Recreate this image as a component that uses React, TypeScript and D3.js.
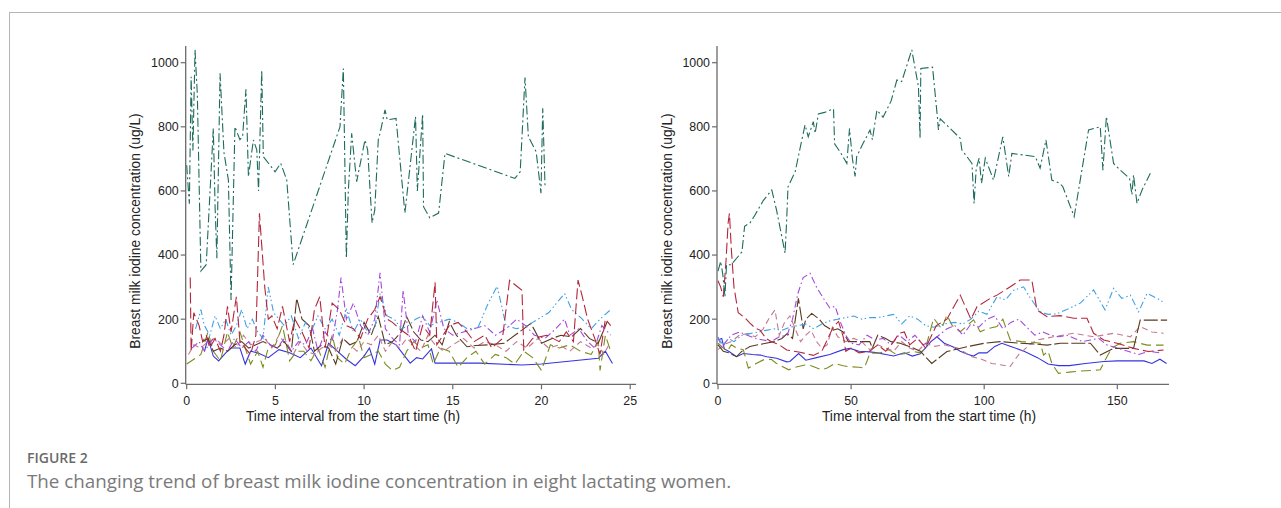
import React from 'react';
import * as d3 from 'd3';

// [hours, ug/L] per woman, left panel = first 24 h, right panel = whole week
const leftTeal = [[0,680],[0.15,560],[0.25,956],[0.35,726],[0.47,1040],[0.6,900],[0.8,350],[1.1,370],[1.5,795],[1.6,551],[1.7,390],[1.88,967],[2.1,720],[2.35,634],[2.5,260],[2.72,800],[3.0,760],[3.15,769],[3.34,917],[3.48,645],[3.76,759],[3.95,728],[4.05,600],[4.23,977],[4.32,707],[4.98,660],[5.3,686],[5.64,634],[6.0,370],[8.64,800],[8.83,982],[9.0,390],[9.11,600],[9.3,780],[9.58,629],[10.05,759],[10.2,728],[10.45,500],[10.6,540],[10.8,760],[10.9,780],[11.18,853],[11.3,822],[11.8,826],[12.3,531],[12.9,832],[13.0,600],[13.3,840],[13.35,551],[13.7,516],[14.2,531],[14.56,717],[18.5,639],[18.8,660],[19.07,954],[19.26,769],[19.7,722],[19.97,593],[20.07,858],[20.2,613]];
const leftRed = [[0.2,330],[0.25,100],[0.4,220],[0.7,180],[0.9,130],[1.1,150],[1.3,110],[1.6,140],[1.9,100],[2.1,150],[2.3,240],[2.5,160],[2.8,270],[3.0,130],[3.3,110],[3.6,90],[3.9,150],[4.1,530],[4.4,300],[4.6,200],[4.8,210],[5.1,170],[5.4,240],[5.8,130],[6.1,200],[6.5,160],[6.9,110],[7.2,230],[7.5,270],[7.8,110],[8.2,250],[8.6,230],[9.0,180],[9.4,170],[9.8,140],[10.2,200],[10.6,230],[10.9,270],[11.3,200],[11.6,190],[12.0,170],[12.5,150],[12.9,100],[13.3,180],[13.7,150],[14.0,315],[14.1,120],[14.8,180],[15.3,190],[15.8,160],[16.2,130],[16.8,150],[17.2,110],[17.8,140],[18.2,321],[18.9,290],[19.0,104],[19.5,140],[20.3,150],[21.0,130],[21.4,160],[21.8,130],[22.06,322],[22.3,270],[22.6,200],[23.0,140],[23.3,90],[23.6,200],[23.9,180]];
const leftSky = [[0.5,170],[0.8,230],[1.0,180],[1.3,150],[1.6,210],[1.9,170],[2.2,200],[2.5,150],[2.8,180],[3.1,230],[3.4,170],[3.7,200],[4.0,160],[4.3,140],[4.6,300],[4.9,220],[5.2,200],[5.5,180],[5.9,210],[6.3,140],[6.7,190],[7.0,160],[7.4,210],[7.8,170],[8.2,200],[8.6,150],[9.0,230],[9.4,160],[9.8,200],[10.2,160],[10.6,170],[10.9,280],[11.3,210],[11.7,200],[12.1,170],[12.5,180],[12.9,200],[13.3,210],[13.7,180],[14.2,190],[14.8,200],[15.3,190],[15.8,170],[16.4,172],[17.0,250],[17.5,303],[18.0,180],[18.6,170],[19.2,180],[19.8,200],[20.4,220],[21.0,260],[21.3,280],[21.7,230],[22.3,200],[22.8,170],[23.3,200],[23.9,230]];
const leftPurple = [[0.3,110],[0.7,130],[1.0,100],[1.5,140],[1.9,120],[2.3,100],[2.7,140],[3.1,110],[3.5,130],[3.9,100],[4.3,150],[4.7,120],[5.1,110],[5.5,140],[5.9,100],[6.3,130],[6.7,120],[7.1,170],[7.4,100],[7.8,160],[8.2,130],[8.5,230],[8.7,330],[9.0,200],[9.4,250],[9.8,180],[10.2,150],[10.6,200],[10.9,345],[11.2,170],[11.6,140],[12.0,120],[12.2,290],[12.5,150],[12.9,130],[13.3,210],[13.7,160],[14.1,260],[14.5,170],[15.0,150],[15.6,160],[16.2,170],[16.8,180],[17.4,150],[18.0,170],[18.6,200],[19.1,180],[19.6,150],[20.2,140],[20.8,170],[21.3,200],[21.6,150],[22.1,170],[22.6,130],[23.0,110],[23.4,180],[23.9,150]];
const leftBrown = [[0.9,130],[1.2,140],[1.5,100],[1.9,110],[2.3,100],[2.7,120],[3.1,130],[3.5,110],[3.9,120],[4.3,130],[4.7,120],[5.1,110],[5.5,130],[5.9,100],[6.2,265],[6.5,200],[6.9,180],[7.2,100],[7.6,120],[8.0,110],[8.4,60],[8.8,140],[9.2,120],[9.6,130],[10.0,190],[10.4,150],[10.8,208],[11.2,120],[11.6,130],[12.1,160],[12.4,208],[12.8,160],[13.2,135],[13.6,130],[14.0,150],[14.4,120],[14.8,192],[15.2,150],[15.8,114],[16.3,118],[17.0,120],[17.9,125],[18.5,150],[18.9,166],[19.4,187],[20.0,125],[20.6,140],[21.1,150],[21.7,145],[22.2,171],[22.7,140],[23.2,125],[23.7,192]];
const leftMauve = [[0.1,90],[0.4,120],[0.8,110],[1.2,130],[1.6,140],[2.0,120],[2.4,140],[2.8,110],[3.2,150],[3.6,120],[4.0,130],[4.4,140],[4.8,110],[5.2,150],[5.6,120],[6.0,90],[6.4,130],[6.8,100],[7.2,90],[7.6,110],[8.0,120],[8.4,100],[8.8,140],[9.2,120],[9.6,100],[10.0,130],[10.4,120],[10.8,150],[11.2,100],[11.6,130],[12.0,110],[12.4,140],[12.8,120],[13.2,100],[13.6,150],[14.0,120],[14.5,100],[15.0,120],[15.6,140],[16.2,110],[16.8,130],[17.4,120],[18.0,100],[18.6,130],[19.2,110],[19.8,140],[20.4,110],[21.0,120],[21.6,100],[22.2,130],[22.8,110],[23.2,120],[23.5,90],[23.9,130]];
const leftOlive = [[0,60],[0.8,90],[1.2,160],[1.5,100],[1.9,70],[2.3,160],[2.6,110],[3.0,160],[3.3,110],[3.6,60],[4.0,100],[4.3,50],[4.6,110],[5.0,120],[5.4,180],[5.8,70],[6.2,100],[6.6,100],[7.0,70],[7.4,110],[7.8,50],[8.2,150],[8.5,80],[8.9,60],[9.3,110],[9.7,140],[10.0,80],[10.4,90],[10.8,100],[11.2,60],[11.6,40],[12.0,50],[12.4,100],[12.8,130],[13.2,110],[13.6,120],[13.9,60],[14.3,110],[14.8,100],[15.3,50],[15.8,80],[16.3,100],[16.8,60],[17.4,90],[18.0,80],[18.5,60],[19.0,100],[19.5,80],[20.0,40],[20.5,120],[21.0,110],[21.6,120],[22.2,100],[22.8,90],[23.2,130],[23.3,40],[23.6,150],[23.9,100]];
const leftBlue = [[1.0,100],[1.2,140],[1.5,85],[1.8,70],[2.2,95],[2.5,110],[3.0,110],[3.3,60],[3.6,100],[4.0,95],[4.6,80],[5.2,105],[5.8,95],[6.4,80],[7.0,110],[7.6,55],[8.0,125],[8.6,95],[9.0,75],[9.5,55],[10.0,85],[10.3,110],[10.6,60],[10.9,135],[11.3,135],[11.8,120],[12.6,63],[12.96,80],[13.3,76],[13.8,107],[14.0,63],[16.5,63],[18.9,57],[20.0,60],[23.2,78],[23.6,100],[24.0,62]];

const rightTeal = [[0,350],[1,380],[1.8,340],[2.6,270],[3.2,370],[5,370],[7,390],[9,410],[10,490],[12,500],[13.9,525],[17,570],[20.2,603],[22,540],[25.2,406],[25.8,510],[26.3,613],[29,660],[31,740],[32.7,806],[33.9,769],[35.8,816],[36.5,780],[37.7,840],[40,845],[43.4,856],[43.8,747],[46,720],[48.4,686],[49.4,795],[50.5,700],[51.5,645],[52.1,707],[54,740],[57.1,790],[58,760],[59.7,852],[62,830],[65,880],[67.2,946],[69,941],[72.8,1040],[75.3,925],[75.9,764],[76.2,982],[80.6,986],[82.4,832],[82.8,790],[83.5,825],[91,764],[91.6,728],[95.4,686],[96.2,561],[97,670],[98.1,702],[99,624],[100.4,702],[103.5,634],[107,769],[109.2,645],[110.4,717],[119.2,707],[121,671],[123.2,759],[125.4,634],[128.3,624],[129.5,614],[133.8,520],[136.7,665],[139.2,790],[143.6,800],[144.6,665],[145.9,832],[148.6,686],[151.1,665],[154.6,639],[155.5,588],[156.1,650],[157.4,561],[159.3,603],[162.4,655]];
const rightRed = [[0,320],[1,300],[2,270],[3,380],[3.8,500],[4.3,530],[5,420],[6,300],[7.6,220],[10,205],[12,188],[14,172],[15.8,166],[18,140],[20,130],[23,120],[25.8,104],[30.8,97],[35.8,87],[39,100],[43.4,177],[45.3,193],[47.2,140],[48,100],[50,110],[53,95],[57,100],[60,120],[63,100],[66,130],[68,156],[70,160],[72,120],[75,140],[78,110],[82,180],[86,200],[91,275],[95,200],[97.3,239],[102.3,265],[104.8,275],[109.8,301],[113.5,322],[117.9,322],[119.8,229],[123.6,208],[128.6,211],[133.6,203],[138.6,203],[141.1,156],[144.9,135],[149.9,125],[156.1,109],[161.7,99],[167.4,104]];
const rightSky = [[0,140],[2,120],[4,140],[6,130],[9,150],[12,155],[15,160],[18,165],[21,170],[24,165],[27,175],[30,180],[33,185],[36,170],[39,185],[42,195],[45,200],[48,205],[51,210],[54,200],[57,205],[60,205],[63,210],[66,215],[69,185],[72,210],[75,200],[78,180],[81,175],[85,185],[89,190],[92,185],[95,200],[98,225],[101,215],[104.8,270],[108,260],[111,290],[114.8,301],[117,270],[121,223],[124,215],[127.3,217],[131,230],[136.1,250],[141.1,291],[145.4,229],[148.6,296],[151.7,265],[154.9,275],[158,223],[161.2,281],[164.9,265],[168,250]];
const rightPurple = [[0,145],[1.5,110],[3,130],[5,150],[8,160],[11,150],[14,140],[17,135],[20,130],[23,145],[26,150],[28,200],[30,280],[32,330],[34.6,343],[37,300],[40,260],[42,235],[44,240],[46,190],[48,150],[50,125],[53,120],[56,150],[59,135],[62,140],[65,120],[68,150],[71,130],[74,150],[77,120],[80,130],[83,150],[86,170],[89,180],[92,150],[95,185],[98,175],[101,200],[104,210],[107,170],[110,190],[113,200],[116,175],[119,150],[122,160],[125,150],[128,145],[131,150],[134,140],[137,130],[140,135],[143,140],[146,120],[150,110],[154,100],[158,90],[162,100],[166,95]];
const rightBrown = [[0,120],[2,100],[4,95],[7,83],[9,100],[12,115],[15,120],[18,125],[21,130],[24,140],[26,155],[28,140],[30.2,265],[32,170],[33,200],[35.2,218],[38,200],[40,180],[43,165],[45,170],[47,160],[49,130],[53,130],[57,130],[58,110],[60,150],[63,140],[65,130],[68.4,125],[72.2,114],[76,100],[80.3,62],[86,99],[93.5,114],[100,125],[106,130],[113.5,125],[118,123],[123.6,119],[128.6,125],[134,125],[139.9,125],[143.6,88],[148.6,109],[156.1,109],[158.6,197],[168.7,197]];
const rightMauve = [[0,105],[2,120],[5,130],[8,150],[11,155],[14,145],[17,170],[19,200],[21.4,229],[23,150],[25,190],[27,210],[29,170],[31,130],[33,150],[35,165],[37,130],[39,110],[41,120],[43,175],[45,145],[48,130],[51,140],[54,130],[57,105],[60,120],[63,110],[66,100],[69,130],[72,110],[75,100],[78,125],[81,115],[85,120],[90,110],[95.4,83],[99,75],[102.8,62],[106,58],[109.7,52],[113,90],[117,120],[119.8,135],[126,145],[133.6,156],[141.1,145],[148.6,156],[154.9,145],[158.6,177],[163,160],[167.4,156]];
const rightOlive = [[0,125],[2,110],[3.5,100],[5,120],[7,110],[9.5,105],[11.4,47],[14,60],[17,73],[20,75],[22,62],[26.6,42],[29,50],[32.6,57],[35,55],[38.9,42],[41,48],[44,62],[47,55],[49,52],[53,50],[55,48],[57.1,94],[61,95],[64,105],[67,90],[70,92],[73,100],[76,95],[78,110],[81,203],[84,170],[86,213],[88,180],[91,161],[93,175],[96,198],[98.5,161],[101,170],[104.8,177],[107,200],[109.8,135],[114,130],[118,128],[121.1,125],[122.3,88],[124,100],[125.5,60],[127.9,31],[132,35],[136,38],[140,40],[143.6,42],[146.1,83],[148,110],[151.1,125],[156.1,130],[161.2,119],[167.4,119]];
const rightBlue = [[0,135],[1.4,140],[2.4,107],[4,100],[7,83],[9.5,93],[13,90],[16,88],[18.3,83],[22,78],[25.8,67],[27,68],[30.3,93],[33,72],[37,80],[42,90],[47,105],[49.6,109],[53,100],[57,98],[60,95],[63,90],[66,85],[70,95],[73,85],[76,92],[80,130],[82.2,145],[85,125],[88,115],[91,100],[94,90],[96,85],[98,95],[101,95],[104,115],[106.6,125],[110,115],[115,100],[120,80],[124,60],[128,55],[132,55],[138,62],[145,68],[150,70],[155,70],[160,70],[163,62],[166,75],[168.5,62]];

const yTicks = [0, 200, 400, 600, 800, 1000];
const leftXTicks = [0, 5, 10, 15, 20, 25];
const rightXTicks = [0, 50, 100, 150];

const styles = [
  { color: '#3535e0', dash: null },
  { color: '#7d8a1c', dash: '10,5' },
  { color: '#c27a8c', dash: '6,4' },
  { color: '#5a3a1e', dash: '14,3' },
  { color: '#a447dc', dash: '7,3,1.5,3' },
  { color: '#3fa0e6', dash: '7,3,1.5,2.5,1.5,3' },
  { color: '#b3263d', dash: '11,4' },
  { color: '#1d6b5c', dash: '9,3,2,3' },
];

const leftSeries = [leftBlue, leftOlive, leftMauve, leftBrown, leftPurple, leftSky, leftRed, leftTeal];
const rightSeries = [rightBlue, rightOlive, rightMauve, rightBrown, rightPurple, rightSky, rightRed, rightTeal];

const FONT = 'Liberation Sans, Arial, sans-serif';
const AXIS = '#6b6b6b';

function Panel({ series, xMax, xTicks, x0, x1, axisEnd, titleX, yTitleX }) {
  const x = d3.scaleLinear().domain([0, xMax]).range([x0, x1]);
  const y = d3.scaleLinear().domain([0, 1000]).range([383.3, 62.7]);
  const line = d3.line().x(d => x(d[0])).y(d => y(d[1]));
  const ax = x0 - 1;
  const ay = 384.3;
  return (
    <g>
      {series.map((s, i) => (
        <path key={i} d={line(s)} fill="none" stroke={styles[i].color} strokeWidth={1.1}
          strokeDasharray={styles[i].dash || undefined} />
      ))}
      <line x1={ax} x2={ax} y1={46} y2={ay} stroke={AXIS} strokeWidth={1.3} />
      <line x1={ax} x2={axisEnd} y1={ay} y2={ay} stroke={AXIS} strokeWidth={1.3} />
      {yTicks.map(t => (
        <g key={t}>
          <line x1={ax - 5} x2={ax} y1={y(t)} y2={y(t)} stroke={AXIS} strokeWidth={1.2} />
          <text x={ax - 7} y={y(t) + 4.4} textAnchor="end" fontSize={12.4} fontFamily={FONT} fill="#222">{t}</text>
        </g>
      ))}
      {xTicks.map(t => (
        <g key={t}>
          <line x1={x(t)} x2={x(t)} y1={ay} y2={ay + 5} stroke={AXIS} strokeWidth={1.2} />
          <text x={x(t)} y={405} textAnchor="middle" fontSize={12.4} fontFamily={FONT} fill="#222">{t}</text>
        </g>
      ))}
      <text x={titleX} y={421} textAnchor="middle" fontSize={13.8} fontFamily={FONT} fill="#222">
        Time interval from the start time (h)
      </text>
      <text transform={`translate(${yTitleX},231) rotate(-90)`} textAnchor="middle" fontSize={13.8}
        fontFamily={FONT} fill="#222">
        Breast milk iodine concentration (ug/L)
      </text>
    </g>
  );
}

export default function App() {
  return (
    <svg width={1281} height={508} style={{ position: 'absolute', left: 0, top: 0, background: '#fff' }}>
      <rect width={1281} height={508} fill="#fff" />
      <line x1={9} x2={1281} y1={12.5} y2={12.5} stroke="#b5b5b5" strokeWidth={1} />
      <line x1={9.5} x2={9.5} y1={12} y2={508} stroke="#b5b5b5" strokeWidth={1} />
      <Panel series={leftSeries} xMax={25} xTicks={leftXTicks} x0={186.7} x1={630.2} axisEnd={636}
        titleX={353} yTitleX={140} />
      <Panel series={rightSeries} xMax={150} xTicks={rightXTicks} x0={718} x1={1117.3} axisEnd={1169}
        titleX={929} yTitleX={672} />
      <text x={27} y={463} fontSize={14} fontWeight={600} fontFamily="Open Sans, sans-serif" fill="#6a6a6a">
        FIGURE 2
      </text>
      <text x={27} y={488} fontSize={18.8} fontFamily="Open Sans, sans-serif" fill="#7a7a7a">
        The changing trend of breast milk iodine concentration in eight lactating women.
      </text>
    </svg>
  );
}
